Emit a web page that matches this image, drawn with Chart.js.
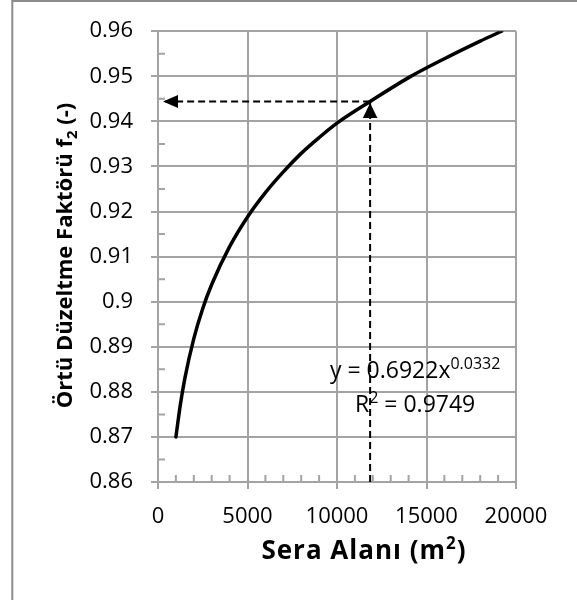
<!DOCTYPE html>
<html><head><meta charset="utf-8">
<script src="https://cdn.jsdelivr.net/npm/chart.js@4/dist/chart.umd.min.js"></script>
<style>html,body{margin:0;padding:0;background:#fff;} #wrap{width:577px;height:600px;}</style>
</head><body><div id="wrap"><canvas id="c" width="577" height="600"></canvas></div>
<script>
// ---- data ----
const seraAlani = [1000, 1250, 1500, 2000, 2500, 3000, 4000, 5000, 6000, 7000, 8000, 9000, 10000, 11850, 14000, 16000, 18000, 19200];
const f2Values  = [0.8700, 0.8772, 0.8830, 0.8918, 0.8985, 0.9038, 0.9122, 0.9188, 0.9242, 0.9288, 0.9329, 0.9364, 0.9396, 0.9444, 0.9497, 0.9539, 0.9578, 0.9600];
const xTickLabels = ['0', '5000', '10000', '15000', '20000'];
const yTickLabels = ['0.86', '0.87', '0.88', '0.89', '0.9', '0.91', '0.92', '0.93', '0.94', '0.95', '0.96'];
const xMinorTicks = [1000, 2000, 3000, 4000, 6000, 7000, 8000, 9000, 11000, 12000, 13000, 14000, 16000, 17000, 18000, 19000];
const yMinorTicks = [0.865, 0.875, 0.885, 0.895, 0.905, 0.915, 0.925, 0.935, 0.945, 0.955];
const guideX = 11850;
const guideY = 0.9444;
const arrowTipX = 280;
const xTitleParts = ['Sera Alanı (m', '2', ')'];
const yTitleParts = ['Örtü Düzeltme Faktörü f', '2', ' (-)'];
const eqParts = ['y = 0.6922x', '0.0332'];
const r2Parts = ['R', '2', ' = 0.9749'];

const FONT = '"Open Sans", "Liberation Sans", sans-serif';
const GRID = '#a3a3a3';

const decor = {
  id: 'decor',
  beforeDraw(chart) {
    const ctx = chart.ctx;
    ctx.save();
    ctx.fillStyle = '#fff';
    ctx.fillRect(0, 0, chart.width, chart.height);
    ctx.strokeStyle = '#8c8c8c';
    ctx.lineWidth = 2;
    ctx.beginPath();
    ctx.moveTo(12.3, 600); ctx.lineTo(12.3, 1); ctx.lineTo(577, 1);
    ctx.stroke();
    ctx.restore();
  },
  beforeDatasetsDraw(chart) {
    const ctx = chart.ctx, xs = chart.scales.x, ys = chart.scales.y;
    ctx.save();
    ctx.strokeStyle = GRID; ctx.lineWidth = 2;
    ctx.beginPath();
    yMinorTicks.forEach(v => { const p = ys.getPixelForValue(v); ctx.moveTo(xs.left, p); ctx.lineTo(xs.left + 7, p); });
    xMinorTicks.forEach(v => { const p = xs.getPixelForValue(v); ctx.moveTo(p, ys.bottom); ctx.lineTo(p, ys.bottom - 7); });
    ctx.stroke();
    ctx.restore();
  },
  afterDatasetsDraw(chart) {
    const ctx = chart.ctx, xs = chart.scales.x, ys = chart.scales.y;
    ctx.save();
    ctx.fillStyle = '#000';
    // left arrow
    const ty = ys.getPixelForValue(guideY), tx = xs.getPixelForValue(arrowTipX);
    ctx.beginPath(); ctx.moveTo(tx, ty); ctx.lineTo(tx + 15, ty - 6.5); ctx.lineTo(tx + 15, ty + 6.5); ctx.closePath(); ctx.fill();
    // up arrow
    const vx = xs.getPixelForValue(guideX);
    ctx.beginPath(); ctx.moveTo(vx, ty + 1.5); ctx.lineTo(vx - 7.3, ty + 16.5); ctx.lineTo(vx + 7.3, ty + 16.5); ctx.closePath(); ctx.fill();

    // equation text
    ctx.fillStyle = '#000';
    ctx.textBaseline = 'alphabetic';
    ctx.textAlign = 'left';
    const eqBig = '23px ' + FONT, eqSmall = '16px ' + FONT;
    ctx.font = eqBig;
    let x = 330;
    ctx.fillText(eqParts[0], x, 378);
    x += ctx.measureText(eqParts[0]).width;
    ctx.font = eqSmall;
    ctx.fillText(eqParts[1], x, 369);
    ctx.font = eqBig;
    x = 355;
    ctx.fillText(r2Parts[0], x, 412);
    x += ctx.measureText(r2Parts[0]).width;
    ctx.font = eqSmall;
    ctx.fillText(r2Parts[1], x, 403);
    x += ctx.measureText(r2Parts[1]).width;
    ctx.font = eqBig;
    ctx.fillText(r2Parts[2], x, 412);

    // x title
    ctx.save();
    if ('letterSpacing' in ctx) ctx.letterSpacing = '1px';
    let big = 'bold 26px ' + FONT, small = 'bold 17px ' + FONT;
    ctx.font = big; const w0 = ctx.measureText(xTitleParts[0]).width, w2 = ctx.measureText(xTitleParts[2]).width;
    ctx.font = small; const w1 = ctx.measureText(xTitleParts[1]).width;
    let sx = 364 - (w0 + w1 + w2) / 2;
    ctx.font = big; ctx.fillText(xTitleParts[0], sx, 559); sx += w0;
    ctx.font = small; ctx.fillText(xTitleParts[1], sx, 549); sx += w1;
    ctx.font = big; ctx.fillText(xTitleParts[2], sx, 559);
    ctx.restore();

    // y title
    big = 'bold 22px ' + FONT; small = 'bold 15px ' + FONT;
    ctx.translate(72, 255.5);
    ctx.rotate(-Math.PI / 2);
    ctx.font = big; const a0 = ctx.measureText(yTitleParts[0]).width, a2 = ctx.measureText(yTitleParts[2]).width;
    ctx.font = small; const a1 = ctx.measureText(yTitleParts[1]).width;
    let sy = -(a0 + a1 + a2) / 2;
    ctx.font = big; ctx.fillText(yTitleParts[0], sy, 0); sy += a0;
    ctx.font = small; ctx.fillText(yTitleParts[1], sy, 5); sy += a1;
    ctx.font = big; ctx.fillText(yTitleParts[2], sy, 0);
    ctx.restore();
  }
};

new Chart(document.getElementById('c'), {
  type: 'scatter',
  data: {
    datasets: [
      {
        data: seraAlani.map((x, i) => ({ x, y: f2Values[i] })),
        showLine: true, borderColor: '#000', borderWidth: 3.5, pointRadius: 0,
        cubicInterpolationMode: 'monotone', borderCapStyle: 'round', fill: false
      },
      {
        data: [{ x: guideX, y: 0.86 }, { x: guideX, y: guideY }],
        showLine: true, borderColor: '#000', borderWidth: 2, borderDash: [7, 4], pointRadius: 0, fill: false
      },
      {
        data: [{ x: guideX, y: guideY }, { x: arrowTipX, y: guideY }],
        showLine: true, borderColor: '#000', borderWidth: 2, borderDash: [7, 4], pointRadius: 0, fill: false
      }
    ]
  },
  options: {
    responsive: false, animation: false,
    layout: { padding: { top: 29, right: 61, left: 0, bottom: 0 } },
    plugins: { legend: { display: false }, tooltip: { enabled: false } },
    scales: {
      x: {
        type: 'linear', min: 0, max: 20000,
        afterFit: s => { s.height = 118; },
        ticks: { stepSize: 5000, callback: (v, i) => xTickLabels[i], color: '#000', font: { family: FONT, size: 22 }, padding: 15, maxRotation: 0 },
        grid: { color: GRID, lineWidth: 2, tickLength: 7, drawTicks: true },
        border: { color: GRID, width: 2 }
      },
      y: {
        type: 'linear', min: 0.86, max: 0.96,
        afterFit: s => { s.width = 158; },
        ticks: { stepSize: 0.01, callback: (v, i) => yTickLabels[i], color: '#000', font: { family: FONT, size: 22 }, padding: 18 },
        grid: { color: GRID, lineWidth: 2, tickLength: 7, drawTicks: true },
        border: { color: GRID, width: 2 }
      }
    }
  },
  plugins: [decor]
});
</script>
</body></html>
